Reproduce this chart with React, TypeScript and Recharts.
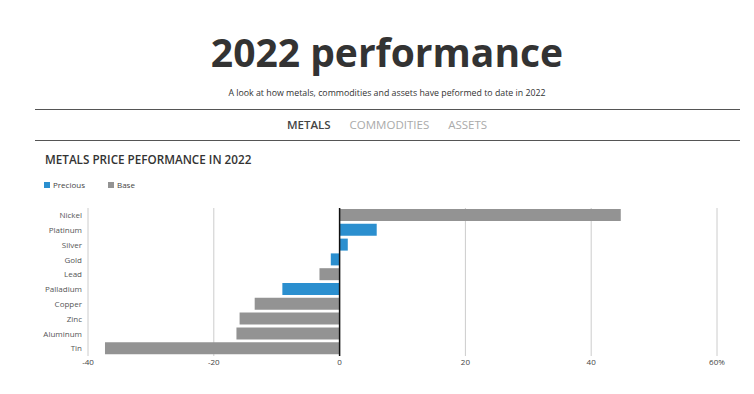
import React from "react";
import { BarChart, Bar, XAxis, YAxis, CartesianGrid, ReferenceLine } from "recharts";

const metals = ["Nickel", "Platinum", "Silver", "Gold", "Lead", "Palladium", "Copper", "Zinc", "Aluminum", "Tin"];
const changes = [44.7, 5.9, 1.3, -1.4, -3.2, -9.1, -13.5, -15.9, -16.4, -37.3];
const groups = ["Base", "Precious", "Precious", "Precious", "Base", "Precious", "Base", "Base", "Base", "Base"];
const xTicks = [-40, -20, 0, 20, 40, 60];
const tabs = ["METALS", "COMMODITIES", "ASSETS"];

const BLUE = "#2b8fcf";
const GRAY = "#939393";
const FONT = "'Open Sans', sans-serif";

const data = metals.map((name, i) => ({
  name,
  Precious: groups[i] === "Precious" ? changes[i] : null,
  Base: groups[i] === "Base" ? changes[i] : null,
}));

export default function App() {
  return (
    <div style={{ position: "absolute", left: 0, top: 0, width: 754, height: 394, background: "#fff", fontFamily: FONT, overflow: "hidden" }}>
      <div style={{ position: "absolute", left: 10, width: 754, top: 27, textAlign: "center", fontSize: 39, fontWeight: 700, color: "#333", lineHeight: "50px" }}>
        2022 performance
      </div>
      <div style={{ position: "absolute", left: 10, width: 754, top: 86, textAlign: "center", fontSize: 8.8, color: "#333", lineHeight: "14px" }}>
        A look at how metals, commodities and assets have peformed to date in 2022
      </div>
      <div style={{ position: "absolute", left: 35, width: 705, top: 109, height: 0, borderTop: "1px solid #555" }} />
      <div style={{ position: "absolute", left: 35, width: 705, top: 140, height: 0, borderTop: "1px solid #555" }} />
      <div style={{ position: "absolute", left: 10, width: 754, top: 117, display: "flex", justifyContent: "center", gap: 19, fontSize: 11.5, lineHeight: "16px" }}>
        {tabs.map((t, i) => (
          <span key={t} style={{ color: i === 0 ? "#444" : "#aaa", fontWeight: i === 0 ? 600 : 400 }}>{t}</span>
        ))}
      </div>
      <div style={{ position: "absolute", left: 45, top: 151, fontSize: 11.7, fontWeight: 600, color: "#333", lineHeight: "16px" }}>
        METALS PRICE PEFORMANCE IN 2022
      </div>
      <div style={{ position: "absolute", left: 44, top: 179, display: "flex", alignItems: "center", fontSize: 8, color: "#444", lineHeight: "12px" }}>
        <span style={{ width: 6, height: 6, background: BLUE, display: "inline-block", marginRight: 3 }} />
        <span style={{ marginRight: 23 }}>Precious</span>
        <span style={{ width: 6, height: 6, background: GRAY, display: "inline-block", marginRight: 3 }} />
        <span>Base</span>
      </div>
      <div style={{ position: "absolute", left: 0, top: 200 }}>
        <BarChart
          width={754}
          height={175}
          data={data}
          layout="vertical"
          margin={{ top: 8, right: 37, bottom: 4, left: 0 }}
          barCategoryGap={1}
        >
          <CartesianGrid horizontal={false} vertical stroke="#cccccc" />
          <XAxis
            type="number"
            domain={[-40, 60]}
            ticks={xTicks}
            tickFormatter={(v: number) => (v === 60 ? "60%" : String(v))}
            axisLine={false}
            tickLine={false}
            tickSize={0}
            tickMargin={3}
            height={15}
            interval={0}
            tick={{ fontSize: 8, fill: "#444", fontFamily: FONT }}
          />
          <YAxis
            type="category"
            dataKey="name"
            width={88}
            axisLine={false}
            tickLine={false}
            tickSize={0}
            tickMargin={6}
            interval={0}
            tick={{ fontSize: 8, fill: "#555", fontFamily: FONT }}
          />
          <Bar dataKey="Precious" stackId="a" fill={BLUE} barSize={12} isAnimationActive={false} />
          <Bar dataKey="Base" stackId="a" fill={GRAY} barSize={12} isAnimationActive={false} />
          <ReferenceLine x={0} stroke="#111" strokeWidth={1.5} />
        </BarChart>
      </div>
    </div>
  );
}
